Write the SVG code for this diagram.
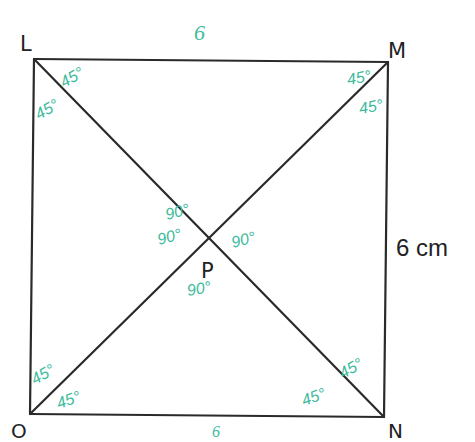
<svg xmlns="http://www.w3.org/2000/svg" width="475" height="442" viewBox="0 0 475 442">
<style>
.edge{stroke:#2a2a2a;stroke-width:2.2;fill:none;stroke-linecap:round}
.lbl{font-family:"DejaVu Sans","Liberation Sans",sans-serif;fill:#222;font-size:21px}
.ang{font-family:"Liberation Sans","DejaVu Sans",sans-serif;fill:#3dbb9c;font-size:16px;font-style:italic}
.len{font-family:"Liberation Serif",serif;fill:#3dbb9c;font-size:22px;font-style:italic}
</style>
<rect width="475" height="442" fill="#fff"/>
<g id="connectors">
<line class="edge" x1="34" y1="59" x2="388" y2="62"/>
<line class="edge" x1="388" y1="62" x2="384" y2="417"/>
<line class="edge" x1="384" y1="417" x2="30" y2="414"/>
<line class="edge" x1="30" y1="414" x2="34" y2="59"/>
<line class="edge" x1="34" y1="59" x2="384" y2="417"/>
<line class="edge" x1="388" y1="62" x2="30" y2="414"/>
</g>
<g id="L"><text class="lbl" x="20" y="51">L</text></g>
<g id="M"><text class="lbl" x="388" y="58">M</text></g>
<g id="N"><text class="lbl" x="388" y="438" style="font-size:20px">N</text></g>
<g id="O"><text class="lbl" x="11" y="438" style="font-size:20px">O</text></g>
<g id="P"><text class="lbl" x="201" y="278">P</text></g>
<g id="side-labels">
<text class="len" x="212" y="437" style="font-size:16px">6</text>
<text class="len" x="194" y="40">6</text>
<text class="lbl" x="396" y="256" style="font-family:'Liberation Sans',sans-serif;font-size:24px">6 cm</text>
</g>
<g id="angles">
<text class="ang" transform="translate(64,88) rotate(-30)">45°</text>
<text class="ang" transform="translate(39,120) rotate(-30)">45°</text>
<text class="ang" transform="translate(348,85) rotate(-10)">45°</text>
<text class="ang" transform="translate(360,114) rotate(-10)">45°</text>
<text class="ang" transform="translate(167,220) rotate(-15)">90°</text>
<text class="ang" transform="translate(159,245) rotate(-15)">90°</text>
<text class="ang" transform="translate(233,248) rotate(-15)">90°</text>
<text class="ang" transform="translate(188,296) rotate(-10)">90°</text>
<text class="ang" transform="translate(35,385) rotate(-30)">45°</text>
<text class="ang" transform="translate(59,409) rotate(-20)">45°</text>
<text class="ang" transform="translate(304,406) rotate(-20)">45°</text>
<text class="ang" transform="translate(343,379) rotate(-30)">45°</text>
</g>
</svg>
